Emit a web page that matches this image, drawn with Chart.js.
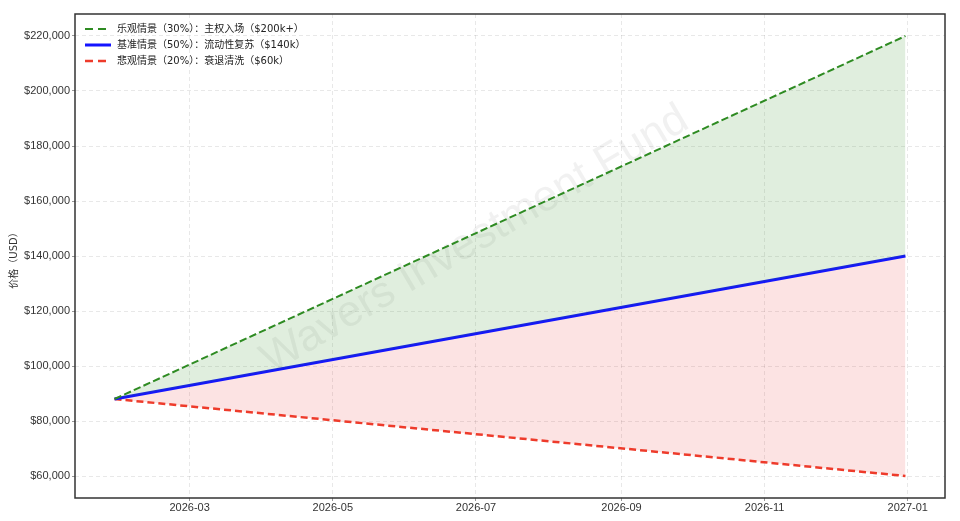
<!DOCTYPE html>
<html>
<head>
<meta charset="utf-8">
<script src="https://cdn.jsdelivr.net/npm/chart.js@4.4.1/dist/chart.umd.min.js"></script>
<style>
html,body{margin:0;padding:0;background:#fff;}
#wrap{width:960px;height:521px;position:relative;}
</style>
</head>
<body>
<div id="wrap"><canvas id="c" width="960" height="521"></canvas></div>
<script>
// ---- data ----
const dates = ['2026-01-28', '2026-12-31'];
const optimistic = [88000, 220000];
const base = [88000, 140000];
const pessimistic = [88000, 60000];
const seriesLabels = [
  '乐观情景（30%）：主权入场（$200k+）',
  '基准情景（50%）：流动性复苏（$140k）',
  '悲观情景（20%）：衰退清洗（$60k）'
];
const xTickDates = ['2026-03-01', '2026-05-01', '2026-07-01', '2026-09-01', '2026-11-01', '2027-01-01'];
const xTickLabels = ['2026-03', '2026-05', '2026-07', '2026-09', '2026-11', '2027-01'];
const yTicks = [60000, 80000, 100000, 120000, 140000, 160000, 180000, 200000, 220000];
const yTitle = '价格（USD）';
const watermark = 'Wavers Investment Fund';

// ---- helpers ----
const t = s => Date.parse(s + 'T00:00:00Z');
const xs = dates.map(t);
const pts = arr => arr.map((v, i) => ({x: xs[i], y: v}));
const span = xs[xs.length - 1] - xs[0];
const xMin = xs[0] - span * 0.05, xMax = xs[xs.length - 1] + span * 0.05;
const allY = optimistic.concat(base, pessimistic);
const yLo = Math.min(...allY), yHi = Math.max(...allY);
const yMin = yLo - (yHi - yLo) * 0.05, yMax = yHi + (yHi - yLo) * 0.05;
const xTickVals = xTickDates.map(t);

const GREEN = '#2e8b22', BLUE = '#1414ff', RED = '#ee3b2b';
const tickFont = {family: "'Liberation Sans', Arial, sans-serif", size: 11};

const frameAndLegend = {
  id: 'frameAndLegend',
  beforeDatasetsDraw(chart) {
    const ctx = chart.ctx;
    ctx.save();
    ctx.translate(475, 240);
    ctx.rotate(-30.5 * Math.PI / 180);
    ctx.font = "44px 'Liberation Sans', Arial, sans-serif";
    ctx.fillStyle = 'rgba(120,120,120,0.10)';
    ctx.textAlign = 'center';
    ctx.textBaseline = 'middle';
    ctx.fillText(watermark, 0, 0);
    ctx.restore();
  },
  afterDraw(chart) {
    const ctx = chart.ctx, a = chart.chartArea;
    ctx.save();
    ctx.strokeStyle = '#333';
    ctx.lineWidth = 1.5;
    ctx.strokeRect(a.left, a.top, a.right - a.left, a.bottom - a.top);
    // legend
    const items = [
      {c: GREEN, w: 2, d: [8, 5]},
      {c: BLUE, w: 3, d: []},
      {c: RED, w: 2.5, d: [8, 5]}
    ];
    ctx.font = "10px 'DejaVu Sans', 'Noto Sans CJK SC', sans-serif";
    ctx.textBaseline = 'middle';
    ctx.textAlign = 'left';
    items.forEach((it, i) => {
      const y = a.top + 15 + i * 16;
      ctx.beginPath();
      ctx.setLineDash(it.d);
      ctx.strokeStyle = it.c;
      ctx.lineWidth = it.w;
      ctx.moveTo(a.left + 10, y);
      ctx.lineTo(a.left + 36, y);
      ctx.stroke();
      ctx.setLineDash([]);
      ctx.fillStyle = '#222';
      ctx.fillText(seriesLabels[i], a.left + 42, y + 0.5);
    });
    // y title
    ctx.save();
    ctx.translate(14, (a.top + a.bottom) / 2 + 2);
    ctx.rotate(-Math.PI / 2);
    ctx.textAlign = 'center';
    ctx.fillStyle = '#333';
    ctx.font = "10px 'DejaVu Sans', 'Noto Sans CJK SC', sans-serif";
    ctx.fillText(yTitle, 0, 0);
    ctx.restore();
    ctx.restore();
  }
};

new Chart(document.getElementById('c'), {
  type: 'line',
  data: {
    datasets: [
      {label: seriesLabels[0], data: pts(optimistic), borderColor: GREEN, borderWidth: 2,
       borderDash: [7.4, 3.2], pointRadius: 0, fill: {target: 1}, backgroundColor: 'rgba(46,139,34,0.15)', tension: 0},
      {label: seriesLabels[1], data: pts(base), borderColor: BLUE, borderWidth: 3,
       pointRadius: 0, fill: false, tension: 0},
      {label: seriesLabels[2], data: pts(pessimistic), borderColor: RED, borderWidth: 2.5,
       borderDash: [7, 4], pointRadius: 0, fill: {target: 1}, backgroundColor: 'rgba(235,40,40,0.13)', tension: 0}
    ]
  },
  options: {
    responsive: false,
    animation: false,
    events: [],
    layout: {padding: {top: 14, right: 15, left: 0, bottom: 0}},
    plugins: {legend: {display: false}, tooltip: {enabled: false}},
    scales: {
      x: {
        type: 'linear', min: xMin, max: xMax,
        afterBuildTicks(s) { s.ticks = xTickVals.map(v => ({value: v})); },
        afterFit(s) { s.height = 23; },
        ticks: {
          autoSkip: false, maxRotation: 0, padding: 0, color: '#333', font: tickFont,
          callback: (v) => xTickLabels[xTickVals.indexOf(v)]
        },
        grid: {color: 'rgba(0,0,0,0.09)', tickLength: 3, tickColor: '#999'},
        border: {display: false, dash: [4, 3]}
      },
      y: {
        type: 'linear', min: yMin, max: yMax,
        afterBuildTicks(s) { s.ticks = yTicks.map(v => ({value: v})); },
        afterFit(s) { s.width = 75; },
        ticks: {
          padding: 2, color: '#333', font: tickFont,
          callback: v => '$' + v.toLocaleString('en-US')
        },
        grid: {color: 'rgba(0,0,0,0.09)', tickLength: 3, tickColor: '#999'},
        border: {display: false, dash: [4, 3]}
      }
    }
  },
  plugins: [frameAndLegend]
});
</script>
</body>
</html>
